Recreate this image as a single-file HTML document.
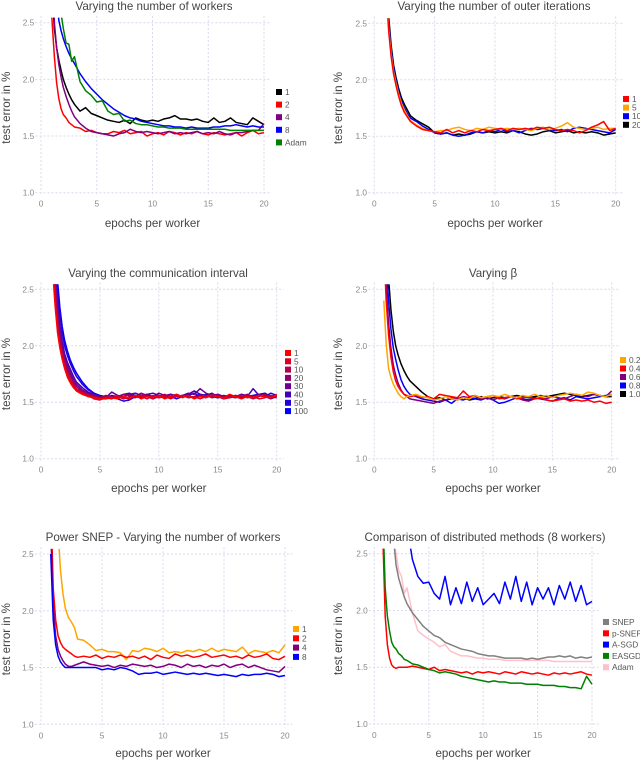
<!DOCTYPE html>
<html><head><meta charset="utf-8"><style>
html,body{margin:0;padding:0;background:#fff;}
svg{display:block;font-family:"Liberation Sans","DejaVu Sans",sans-serif;}
</style></head><body>
<svg id="fig" width="640" height="761" viewBox="0 0 640 761"></svg>
<script>
const E = [0.8,1,1.2,1.4,1.6,1.8,2,2.25,2.5,2.75,3, 3.5,4,4.5,5,5.5,6,6.5,7,7.5,8, 8.5,9,9.5,10,10.5,11,11.5,12,12.5,13, 13.5,14,14.5,15,15.5,16,16.5,17,17.5,18, 18.5,19,19.5,20];
const xTicks = [0,5,10,15,20];
const yTicks = [1.0,1.5,2.0,2.5];
const yTickLabels = ["1.0","1.5","2.0","2.5"];

// Panel 1
const p1Labels = ["1","2","4","8","Adam"];
const p1W1 = [3.2,2.75,2.45,2.28,2.17,2.08,2.0,1.93,1.87,1.82,1.78, 1.72,1.75,1.70,1.68,1.66,1.64,1.63,1.62,1.64,1.61, 1.66,1.64,1.63,1.64,1.63,1.65,1.66,1.68,1.65,1.65, 1.64,1.65,1.63,1.62,1.66,1.62,1.63,1.66,1.62,1.61, 1.60,1.66,1.63,1.60];
const p1W2 = [2.9,2.5,2.2,1.97,1.83,1.74,1.69,1.66,1.62,1.60,1.58, 1.57,1.54,1.55,1.53,1.52,1.52,1.54,1.53,1.55,1.52, 1.53,1.54,1.50,1.52,1.53,1.51,1.54,1.53,1.51,1.53, 1.52,1.54,1.52,1.51,1.53,1.52,1.51,1.52,1.53,1.50, 1.53,1.55,1.52,1.53];
const p1W4 = [3.4,2.95,2.5,2.28,2.13,2.02,1.93,1.85,1.78,1.72,1.67, 1.61,1.57,1.54,1.53,1.52,1.51,1.50,1.52,1.53,1.56, 1.54,1.53,1.54,1.53,1.52,1.53,1.54,1.52,1.53,1.52, 1.53,1.54,1.52,1.53,1.52,1.54,1.52,1.51,1.53,1.53, 1.54,1.55,1.55,1.61];
const p1W8 = [4.2,3.6,3.1,2.75,2.52,2.43,2.36,2.29,2.23,2.18,2.14, 2.05,1.98,1.92,1.87,1.82,1.78,1.74,1.71,1.68,1.66, 1.65,1.63,1.62,1.61,1.60,1.59,1.59,1.58,1.58,1.57, 1.58,1.57,1.57,1.57,1.58,1.58,1.59,1.59,1.60,1.59, 1.58,1.59,1.58,1.58];
const p1Adam = [4.5,3.9,3.4,3.0,2.75,2.58,2.45,2.32,2.31,2.16,2.2, 1.98,1.9,1.86,1.8,1.81,1.72,1.69,1.70,1.63,1.64, 1.61,1.60,1.60,1.59,1.58,1.58,1.57,1.57,1.57,1.56, 1.56,1.56,1.56,1.56,1.56,1.56,1.56,1.55,1.55,1.55, 1.55,1.55,1.55,1.55];

// Panel 2
const p2Labels = ["1","5","10","20"];
const p2O1 = [3.3,2.75,2.42,2.2,2.05,1.95,1.86,1.77,1.71,1.67,1.63, 1.59,1.56,1.55,1.54,1.53,1.56,1.53,1.55,1.53,1.55, 1.54,1.56,1.55,1.56,1.57,1.55,1.57,1.56,1.57,1.56, 1.58,1.57,1.58,1.56,1.55,1.56,1.55,1.53,1.55,1.58, 1.60,1.63,1.55,1.57];
const p2O5 = [3.3,2.8,2.45,2.23,2.07,1.97,1.88,1.79,1.73,1.68,1.64, 1.60,1.57,1.55,1.54,1.55,1.55,1.57,1.58,1.56,1.55, 1.57,1.56,1.58,1.57,1.56,1.57,1.56,1.57,1.56,1.55, 1.57,1.58,1.56,1.57,1.59,1.62,1.58,1.57,1.56,1.57, 1.58,1.56,1.57,1.57];
const p2O10 = [3.4,2.85,2.5,2.26,2.1,1.99,1.9,1.81,1.75,1.7,1.66, 1.63,1.59,1.56,1.53,1.52,1.53,1.51,1.50,1.51,1.53, 1.54,1.53,1.55,1.54,1.56,1.54,1.55,1.53,1.55,1.57, 1.56,1.57,1.56,1.55,1.56,1.54,1.57,1.58,1.57,1.56, 1.55,1.54,1.53,1.56];
const p2O20 = [3.5,2.9,2.55,2.3,2.13,2.02,1.93,1.84,1.78,1.73,1.68, 1.64,1.61,1.58,1.53,1.52,1.53,1.51,1.52,1.51,1.52, 1.54,1.53,1.54,1.53,1.54,1.53,1.55,1.54,1.52,1.51, 1.52,1.54,1.55,1.53,1.54,1.55,1.53,1.54,1.53,1.54, 1.53,1.51,1.52,1.53];

// Panel 3
const p3Labels = ["1","5","10","20","30","40","50","100"];
const p3C1 = [3.1,2.65,2.35,2.12,1.98,1.88,1.8,1.72,1.67,1.63,1.6, 1.57,1.55,1.54,1.53,1.53,1.54,1.53,1.55,1.54,1.56, 1.53,1.55,1.54,1.56,1.53,1.55,1.57,1.54,1.56,1.53, 1.55,1.54,1.56,1.55,1.54,1.57,1.55,1.53,1.55,1.54, 1.56,1.55,1.54,1.57];
const p3C5 = [3.2,2.72,2.4,2.16,2.01,1.9,1.82,1.74,1.69,1.65,1.61, 1.58,1.56,1.53,1.52,1.54,1.53,1.55,1.54,1.53,1.56, 1.55,1.53,1.56,1.54,1.55,1.53,1.55,1.56,1.54,1.55, 1.53,1.55,1.56,1.55,1.53,1.54,1.55,1.56,1.54,1.55, 1.53,1.54,1.56,1.55];
const p3C10 = [3.3,2.8,2.45,2.2,2.04,1.93,1.84,1.76,1.7,1.66,1.62, 1.59,1.56,1.55,1.53,1.55,1.54,1.56,1.53,1.55,1.54, 1.56,1.55,1.53,1.55,1.57,1.54,1.55,1.56,1.55,1.54, 1.55,1.56,1.54,1.55,1.53,1.55,1.54,1.56,1.55,1.53, 1.55,1.57,1.54,1.56];
const p3C20 = [3.4,2.9,2.52,2.26,2.08,1.96,1.87,1.79,1.73,1.68,1.64, 1.6,1.57,1.56,1.54,1.56,1.55,1.54,1.57,1.56,1.55, 1.58,1.56,1.55,1.54,1.56,1.55,1.57,1.55,1.56,1.54, 1.56,1.55,1.57,1.56,1.55,1.54,1.56,1.55,1.57,1.54, 1.56,1.55,1.53,1.55];
const p3C30 = [3.5,3.0,2.6,2.32,2.13,2.0,1.9,1.82,1.76,1.7,1.66, 1.61,1.58,1.56,1.55,1.54,1.59,1.56,1.55,1.57,1.58, 1.56,1.57,1.55,1.58,1.56,1.57,1.55,1.56,1.58,1.57, 1.62,1.58,1.56,1.57,1.55,1.56,1.55,1.57,1.56,1.55, 1.57,1.56,1.55,1.54];
const p3C40 = [3.6,3.1,2.68,2.38,2.18,2.04,1.93,1.85,1.79,1.73,1.68, 1.63,1.59,1.57,1.55,1.54,1.56,1.55,1.57,1.58,1.55, 1.56,1.57,1.58,1.56,1.55,1.57,1.56,1.55,1.57,1.6, 1.57,1.56,1.58,1.55,1.56,1.55,1.56,1.54,1.55,1.62, 1.56,1.55,1.54,1.55];
const p3C50 = [3.8,3.25,2.8,2.5,2.28,2.12,2.0,1.91,1.84,1.78,1.73, 1.66,1.61,1.58,1.55,1.54,1.55,1.53,1.51,1.52,1.55, 1.54,1.55,1.53,1.56,1.54,1.55,1.53,1.55,1.56,1.58, 1.55,1.57,1.55,1.54,1.55,1.56,1.54,1.55,1.55,1.56, 1.57,1.55,1.58,1.56];
const p3C100 = [3.9,3.35,2.9,2.58,2.34,2.17,2.05,1.95,1.87,1.81,1.76, 1.68,1.62,1.58,1.56,1.55,1.54,1.55,1.53,1.55,1.58, 1.56,1.55,1.54,1.56,1.55,1.57,1.55,1.56,1.54,1.55, 1.57,1.56,1.55,1.57,1.55,1.56,1.54,1.57,1.55,1.56, 1.57,1.58,1.55,1.57];

// Panel 4
const p4Labels = ["0.2","0.4","0.6","0.8","1.0"];
const p4B02 = [2.4,2.02,1.8,1.72,1.66,1.62,1.58,1.55,1.53,1.55,1.56, 1.57,1.55,1.54,1.52,1.53,1.55,1.53,1.52,1.54,1.53, 1.56,1.54,1.55,1.56,1.55,1.57,1.55,1.54,1.56,1.55, 1.57,1.55,1.56,1.54,1.56,1.57,1.58,1.57,1.56,1.59, 1.58,1.56,1.55,1.57];
const p4B04 = [2.9,2.4,2.1,1.9,1.77,1.69,1.64,1.6,1.57,1.56,1.55, 1.56,1.54,1.55,1.53,1.57,1.56,1.55,1.54,1.6,1.55, 1.56,1.54,1.55,1.56,1.53,1.54,1.55,1.53,1.54,1.55, 1.53,1.54,1.52,1.51,1.52,1.53,1.51,1.52,1.51,1.52, 1.50,1.51,1.49,1.50];
const p4B06 = [3.0,2.55,2.2,1.98,1.83,1.74,1.67,1.61,1.57,1.55,1.53, 1.52,1.51,1.50,1.49,1.51,1.52,1.54,1.53,1.55,1.54, 1.55,1.53,1.54,1.52,1.54,1.53,1.55,1.54,1.52,1.51, 1.53,1.54,1.53,1.55,1.54,1.53,1.55,1.57,1.56,1.55, 1.57,1.56,1.55,1.60];
const p4B08 = [3.2,2.75,2.4,2.15,1.98,1.88,1.79,1.7,1.64,1.6,1.57, 1.55,1.53,1.52,1.51,1.50,1.52,1.49,1.53,1.52,1.54, 1.53,1.52,1.54,1.52,1.49,1.50,1.52,1.54,1.53,1.52, 1.54,1.53,1.52,1.51,1.53,1.54,1.52,1.55,1.54,1.53, 1.54,1.55,1.56,1.57];
const p4B10 = [3.5,3.0,2.6,2.32,2.13,2.0,1.92,1.84,1.78,1.73,1.69, 1.64,1.59,1.55,1.53,1.54,1.52,1.53,1.52,1.54,1.52, 1.53,1.55,1.53,1.54,1.55,1.54,1.55,1.56,1.55,1.54, 1.55,1.56,1.55,1.56,1.57,1.58,1.57,1.56,1.55,1.56, 1.57,1.56,1.55,1.55];

// Panel 5
const p5Labels = ["1","2","4","8"];
const p5P1 = [4.5,3.8,3.2,2.7,2.35,2.15,2.02,1.94,1.9,1.85,1.75, 1.74,1.7,1.65,1.66,1.64,1.64,1.63,1.57,1.65,1.64, 1.67,1.66,1.64,1.67,1.63,1.64,1.63,1.65,1.64,1.66, 1.64,1.67,1.64,1.66,1.65,1.64,1.68,1.62,1.65,1.64, 1.63,1.65,1.63,1.70];
const p5P2 = [3.0,2.2,1.92,1.78,1.72,1.68,1.66,1.64,1.62,1.6,1.59, 1.6,1.59,1.61,1.58,1.6,1.59,1.61,1.59,1.6,1.58, 1.6,1.57,1.61,1.59,1.58,1.62,1.6,1.61,1.59,1.6, 1.62,1.59,1.6,1.61,1.59,1.6,1.58,1.61,1.59,1.6, 1.62,1.58,1.57,1.6];
const p5P4 = [2.7,2.05,1.78,1.66,1.6,1.56,1.53,1.51,1.51,1.52,1.53, 1.55,1.53,1.52,1.51,1.52,1.5,1.52,1.51,1.53,1.52, 1.51,1.52,1.5,1.51,1.53,1.52,1.5,1.53,1.51,1.52, 1.5,1.52,1.51,1.53,1.5,1.52,1.53,1.5,1.52,1.5, 1.48,1.47,1.46,1.51];
const p5P8 = [2.5,1.92,1.7,1.6,1.55,1.52,1.5,1.5,1.5,1.5,1.5, 1.5,1.5,1.5,1.48,1.49,1.48,1.5,1.49,1.47,1.44, 1.45,1.45,1.46,1.44,1.45,1.46,1.45,1.44,1.45,1.44, 1.45,1.44,1.43,1.44,1.43,1.42,1.44,1.43,1.44,1.44, 1.45,1.44,1.42,1.43];

// Panel 6
const p6Labels = ["SNEP","p-SNEP","A-SGD","EASGD","Adam"];
const p6Snep = [6,5,4.2,3.5,3.0,2.6,2.4,2.28,2.2,2.12,2.06, 1.98,1.92,1.86,1.82,1.78,1.76,1.72,1.7,1.68,1.66, 1.65,1.64,1.62,1.61,1.6,1.6,1.59,1.58,1.58,1.58, 1.58,1.57,1.58,1.57,1.58,1.59,1.59,1.6,1.59,1.6, 1.58,1.59,1.58,1.59];
const p6PSnep = [2.6,1.95,1.7,1.58,1.52,1.5,1.49,1.5,1.5,1.5,1.5, 1.51,1.5,1.49,1.48,1.5,1.47,1.48,1.47,1.46,1.45, 1.46,1.44,1.46,1.45,1.46,1.45,1.44,1.46,1.45,1.44, 1.46,1.45,1.44,1.45,1.44,1.43,1.45,1.44,1.45,1.44, 1.45,1.46,1.44,1.43];
const p6Asgd = [8,7,6.2,5.5,4.9,4.4,4.0,3.6,3.2,2.95,2.75, 2.45,2.3,2.24,2.25,2.15,2.1,2.3,2.05,2.2,2.06, 2.25,2.08,2.2,2.05,2.1,2.15,2.06,2.25,2.1,2.3, 2.08,2.25,2.05,2.2,2.1,2.2,2.05,2.22,2.1,2.25, 2.08,2.22,2.05,2.08];
const p6Easgd = [2.8,2.2,1.95,1.82,1.72,1.68,1.66,1.62,1.6,1.57,1.56, 1.53,1.52,1.5,1.48,1.47,1.45,1.46,1.45,1.44,1.42, 1.41,1.4,1.39,1.38,1.37,1.38,1.37,1.37,1.36,1.36, 1.36,1.35,1.35,1.35,1.34,1.34,1.34,1.33,1.33,1.32, 1.32,1.31,1.42,1.35];
const p6Adam = [5,4.2,3.6,3.1,2.8,2.6,2.5,2.35,2.3,2.15,2.2, 1.98,1.82,1.78,1.75,1.72,1.68,1.7,1.64,1.62,1.6, 1.6,1.59,1.58,1.58,1.57,1.57,1.57,1.56,1.56,1.56, 1.56,1.56,1.56,1.56,1.56,1.56,1.55,1.55,1.55,1.55, 1.55,1.55,1.55,1.55];

const NS = "http://www.w3.org/2000/svg";
const svg = document.getElementById("fig");
function mk(tag, attrs, parent){
  const el = document.createElementNS(NS, tag);
  for (const k in attrs) el.setAttribute(k, attrs[k]);
  (parent||svg).appendChild(el);
  return el;
}

const panels = [
 {id:"p1", title:"Varying the number of workers", x0:41, x20:264, y25:22.7, y10:192.7, tx:154, ty:10, lx:276, ly:92, ls:12.6, labX:10, xlY:227,
  series:[[p1W1,"#000000"],[p1W2,"#ff0000"],[p1W4,"#800080"],[p1W8,"#0000ff"],[p1Adam,"#008000"]], labels:p1Labels},
 {id:"p2", title:"Varying the number of outer iterations", x0:374.3, x20:615.7, y25:23.3, y10:192.7, tx:494, ty:10, lx:623, ly:99, ls:8.6, labX:342, xlY:227,
  series:[[p2O20,"#000000"],[p2O10,"#0000ff"],[p2O5,"#ffa500"],[p2O1,"#ff0000"]], labels:p2Labels, lcolors:["#ff0000","#ffa500","#0000ff","#000000"]},
 {id:"p3", title:"Varying the communication interval", x0:41, x20:276.7, y25:289.3, y10:458.7, tx:158, ty:277, lx:285, ly:353, ls:8.3, labX:10, xlY:492,
  series:[[p3C100,"#0000ff"],[p3C50,"#2400db"],[p3C40,"#4800b6"],[p3C30,"#6d0092"],[p3C20,"#92006d"],[p3C10,"#b60048"],[p3C5,"#db0024"],[p3C1,"#ff0000"]], labels:p3Labels,
  lcolors:["#ff0000","#db0024","#b60048","#92006d","#6d0092","#4800b6","#2400db","#0000ff"]},
 {id:"p4", title:"Varying β", x0:374.3, x20:611.7, y25:289.3, y10:458.7, tx:493, ty:277, lx:620, ly:360, ls:8.5, labX:342, xlY:492,
  series:[[p4B10,"#000000"],[p4B08,"#0000ff"],[p4B06,"#800080"],[p4B04,"#ff0000"],[p4B02,"#ffa500"]], labels:p4Labels,
  lcolors:["#ffa500","#ff0000","#800080","#0000ff","#000000"]},
 {id:"p5", title:"Power SNEP - Varying the number of workers", x0:41, x20:285, y25:554, y10:724.3, tx:163, ty:541, lx:293, ly:629, ls:9.3, labX:10, xlY:757,
  series:[[p5P1,"#ffa500"],[p5P2,"#ff0000"],[p5P4,"#800080"],[p5P8,"#0000ff"]], labels:p5Labels},
 {id:"p6", title:"Comparison of distributed methods (8 workers)", x0:374.3, x20:592, y25:553.7, y10:724, tx:485, ty:541, lx:603, ly:622, ls:11.3, labX:342, xlY:757,
  series:[[p6Asgd,"#0000ff"],[p6Adam,"#ffc0cb"],[p6Snep,"#808080"],[p6PSnep,"#ff0000"],[p6Easgd,"#008000"]], labels:p6Labels,
  lcolors:["#808080","#ff0000","#0000ff","#008000","#ffc0cb"]}
];

const defs = mk("defs", {});
panels.forEach((P, pi) => {
  const xs = v => P.x0 + (P.x20 - P.x0) * v / 20;
  const ys = v => P.y10 - (P.y10 - P.y25) * (v - 1.0) / 1.5;
  const g = mk("g", {});
  
  

  const cp = mk("clipPath", {id:"clip"+pi}, defs);
  mk("rect", {x:xs(-1), y:ys(2.545), width:xs(20.8)-xs(-1), height:ys(0.9)-ys(2.545)}, cp);

  yTicks.forEach((t, i) => {
    const l = mk("line", {x1:xs(-0.5), x2:xs(20.6), y1:ys(t), y2:ys(t), stroke:"#d9d9ec", "stroke-width":1, "stroke-dasharray":"2,2"}, g);
    
    
    const tl = mk("text", {x:xs(-0.6), y:ys(t)+3, "text-anchor":"end", "font-size":8.3, fill:"#888"}, g);
    tl.textContent = yTickLabels[i];
    
    
  });
  xTicks.forEach(t => {
    const l = mk("line", {x1:xs(t), x2:xs(t), y1:ys(2.56), y2:ys(0.97), stroke:"#d9d9ec", "stroke-width":1, "stroke-dasharray":"2,2"}, g);
    
    
    const tl = mk("text", {x:xs(t), y:ys(1.0)+14, "text-anchor":"middle", "font-size":8.3, fill:"#888"}, g);
    tl.textContent = String(t);
    
    
  });

  const sg = mk("g", {"clip-path":"url(#clip"+pi+")"}, g);
  P.series.forEach(([vals, col]) => {
    const n = Math.min(vals.length, E.length);
    let d = "";
    for (let i = 0; i < n; i++) d += (i ? "L" : "M") + xs(E[i]).toFixed(2) + "," + ys(vals[i]).toFixed(2);
    const p = mk("path", {d:d, fill:"none", stroke:col, "stroke-width":1.5, "stroke-linejoin":"round"}, sg);
    
    
  });

  const t = mk("text", {x:P.tx, y:P.ty, "text-anchor":"middle", "font-size":11.6, fill:"#444"}, g);
  t.textContent = P.title;
  
  

  const xl = mk("text", {x:(xs(0)+xs(20))/2, y:P.xlY, "text-anchor":"middle", "font-size":11.6, fill:"#444"}, g);
  xl.textContent = "epochs per worker";
  
  
  const cy = ys(1.75);
  const yl = mk("text", {x:P.labX, y:cy, "text-anchor":"middle", "font-size":11.6, fill:"#444", transform:"rotate(-90 "+P.labX+" "+cy+")"}, g);
  yl.textContent = "test error in %";
  
  

  const cols = P.lcolors || P.series.map(s => s[1]);
  P.labels.forEach((lab, i) => {
    const y = P.ly + i * P.ls;
    const lg = mk("g", {}, g);
    
    
    mk("rect", {x:P.lx, y:y-3, width:6, height:6, fill:cols[i]}, lg);
    const lt = mk("text", {x:P.lx+9, y:y+3, "font-size":8.3, fill:"#555"}, lg);
    lt.textContent = lab;
  });
});
</script>
</body></html>
